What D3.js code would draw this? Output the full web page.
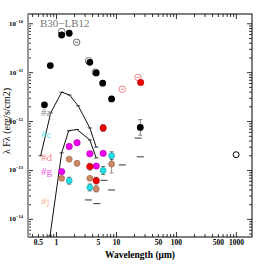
<!DOCTYPE html>
<html>
<head>
<meta charset="utf-8">
<script src="https://cdn.jsdelivr.net/npm/d3@7"></script>
<style>
  body { margin: 0; background: #fff; }
  svg { display: block; }
</style>
</head>
<body>
<div id="chart"></div>
<script>
// Chart size
const width = 266;
const height = 266;
const plot = { left: 28, right: 252, top: 14, bottom: 237 };

// Photometry of the main source (black filled)
const blackWl = [0.63, 0.79, 1.22, 1.63, 3.6, 4.6, 5.9, 8.3, 25];
const blackFlux = [2.2e-12, 1.4e-11, 5.9e-11, 6.4e-11, 1.63e-11, 9.9e-12, 6.1e-12, 2.9e-12, 7.6e-13];
const blackErr = [0, 0, 0, 0, 0, 0, 0, 0, 0.16];

// Gray open circles behind the black points
const grayWl = [1.22, 3.45, 4.45];
const grayFlux = [6.9e-11, 1.74e-11, 1.02e-11];
const dotWl = [2.17];
const dotFlux = [4.2e-11];

// Pink open circles and red filled points (#d)
const pinkWl = [12.5, 22.8];
const pinkFlux = [4.6e-12, 8.0e-12];
const redWl = [3.6, 4.6, 6.0, 25.3];
const redFlux = [1.2e-13, 6.2e-14, 7.4e-13, 6.3e-12];
const redErr = [0.07, 0.07, 0.07, 0];

// #g magenta
const magWl = [1.22, 1.63, 2.2, 3.6, 4.6, 6.0];
const magFlux = [9.5e-14, 3.1e-13, 3.7e-13, 2.2e-13, 1.23e-13, 2.24e-13];

// #j brown
const brownWl = [1.22, 1.63, 2.2, 3.6, 4.6, 8.3];
const brownFlux = [6.9e-14, 1.7e-13, 1.4e-13, 6.9e-14, 4.2e-14, 1.35e-13];
const brownErr = [0, 0, 0.05, 0, 0.06, 0.18];

// #c cyan
const cyanWl = [1.63, 3.6, 6.0, 8.3];
const cyanFlux = [6.2e-14, 4.5e-14, 1.0e-13, 2.0e-13];
const cyanErr = [0.07, 0.07, 0.08, 0.08];

// Short dashes (limits)
const dashWl = [3.4, 4.7, 6.2, 8.3, 12.5, 23, 25];
const dashFlux = [2.5e-14, 2.1e-14, 6.3e-14, 4.0e-14, 1.3e-13, 4.6e-13, 1.9e-13];

// Millimetre point
const mmWl = [990];
const mmFlux = [2.1e-13];

// Model SED curves
const modelA_Wl = [0.545, 0.8, 1.22, 1.65, 2.3, 3.6, 4.6];
const modelA_Flux = [2.0e-13, 1.5e-12, 4.0e-12, 3.5e-12, 2.1e-12, 7.4e-13, 3.0e-13];
const modelB_Wl = [0.78, 1.22, 1.6, 2.2, 3.6, 4.6];
const modelB_Flux = [4.6e-15, 2.3e-13, 6.5e-13, 6.9e-13, 4.2e-13, 1.8e-13];

// Axis ticks
const xTickLabels = [0.5, 1, 5, 10, 50, 100, 500, 1000];
const yTickExp = [-10, -11, -12, -13, -14];

// Labels
const sourceLabels = ["#a", "#c", "#d", "#g", "#j"];
const sourceColors = ["#888888", "#5fe8f0", "#f08a80", "#ee55ee", "#f0b8a0"];

const zip = (a, b, e) => a.map((v, i) => ({ x: v, y: b[i], e: e ? e[i] : 0 }));

const xScale = d3.scaleLog().domain([0.335, 1820]).range([plot.left, plot.right]);
const yScale = d3.scaleLog().domain([Math.pow(10, -14.36), Math.pow(10, -9.8)]).range([plot.bottom, plot.top]);

const svg = d3.select("#chart").append("svg")
  .attr("width", width)
  .attr("height", height);

svg.append("defs").append("clipPath").attr("id", "clip")
  .append("rect")
  .attr("x", plot.left).attr("y", plot.top)
  .attr("width", plot.right - plot.left)
  .attr("height", plot.bottom - plot.top);

// Axes, ticks pointing inward on all four sides
const xTicks = [];
for (let d = 0.1; d <= 1000; d *= 10) {
  for (let k = 1; k < 10; k++) {
    const v = +(d * k).toPrecision(3);
    if (v >= 0.335 && v <= 1820) xTicks.push(v);
  }
}
const yTicks = [];
for (let e = -15; e <= -10; e++) {
  for (let k = 1; k < 10; k++) {
    const v = k * Math.pow(10, e);
    if (v >= Math.pow(10, -14.36) && v <= Math.pow(10, -9.8)) yTicks.push(v);
  }
}
const isMajorX = (v) => Math.abs(Math.log10(v) - Math.round(Math.log10(v))) < 1e-6;

const xBottom = d3.axisBottom(xScale).tickValues(xTicks)
  .tickSize(0).tickFormat("");
const axes = svg.append("g").attr("class", "axes");

// bottom and top ticks
[plot.bottom, plot.top].forEach((yy, side) => {
  axes.selectAll(null).data(xTicks).enter().append("line")
    .attr("x1", (d) => xScale(d)).attr("x2", (d) => xScale(d))
    .attr("y1", yy)
    .attr("y2", (d) => yy + (side === 0 ? -1 : 1) * (isMajorX(d) ? 5 : 3))
    .attr("stroke", "#000").attr("stroke-width", 0.8);
});
// left and right ticks
[plot.left, plot.right].forEach((xx, side) => {
  axes.selectAll(null).data(yTicks).enter().append("line")
    .attr("y1", (d) => yScale(d)).attr("y2", (d) => yScale(d))
    .attr("x1", xx)
    .attr("x2", (d) => xx + (side === 0 ? 1 : -1) * (isMajorX(d) ? 5 : 3))
    .attr("stroke", "#000").attr("stroke-width", 0.8);
});

// frame
axes.append("rect")
  .attr("x", plot.left).attr("y", plot.top)
  .attr("width", plot.right - plot.left).attr("height", plot.bottom - plot.top)
  .attr("fill", "none").attr("stroke", "#000").attr("stroke-width", 1);
axes.append("line")
  .attr("x1", plot.left).attr("x2", plot.left)
  .attr("y1", plot.top).attr("y2", plot.bottom)
  .attr("stroke", "#999").attr("stroke-width", 2);

// x tick labels
axes.selectAll(null).data(xTickLabels).enter().append("text")
  .attr("x", (d) => xScale(d)).attr("y", 245)
  .attr("text-anchor", "middle")
  .attr("font-family", "Liberation Serif, serif")
  .attr("font-weight", "bold")
  .attr("font-size", 7.5)
  .text((d) => d);

// y tick labels 10^n
const yLab = axes.selectAll(null).data(yTickExp).enter().append("text")
  .attr("x", 23).attr("y", (d) => yScale(Math.pow(10, d)) + 2)
  .attr("text-anchor", "end")
  .attr("font-family", "Liberation Serif, serif")
  .attr("font-weight", "bold")
  .attr("font-size", 7);
yLab.append("tspan").text("10");
yLab.append("tspan").attr("dy", -3).attr("font-size", 4.5).text((d) => "−" + Math.abs(d));

// axis titles
svg.append("text")
  .attr("x", 140).attr("y", 258)
  .attr("text-anchor", "middle")
  .attr("font-family", "Liberation Serif, serif")
  .attr("font-weight", "bold")
  .attr("font-size", 9.5)
  .text("Wavelength (μm)");
svg.append("text")
  .attr("transform", "translate(10,121) rotate(-90)")
  .attr("text-anchor", "middle")
  .attr("font-family", "Liberation Serif, serif")
  .attr("font-size", 10)
  .text("λ Fλ (erg/s/cm2)");

// data layer
const g = svg.append("g").attr("clip-path", "url(#clip)");

// model curves with small vertex ticks
const line = d3.line().x((d) => xScale(d.x)).y((d) => yScale(d.y));
[zip(modelA_Wl, modelA_Flux), zip(modelB_Wl, modelB_Flux)].forEach((m) => {
  g.append("path").datum(m).attr("d", line)
    .attr("fill", "none").attr("stroke", "#111").attr("stroke-width", 1);
  g.selectAll(null).data(m).enter().append("line")
    .attr("x1", (d) => xScale(d.x) - 2).attr("x2", (d) => xScale(d.x) + 2)
    .attr("y1", (d) => yScale(d.y)).attr("y2", (d) => yScale(d.y))
    .attr("stroke", "#111").attr("stroke-width", 0.8);
});

// limit dashes
g.selectAll(null).data(zip(dashWl, dashFlux)).enter().append("line")
  .attr("x1", (d) => xScale(d.x) - 3.5).attr("x2", (d) => xScale(d.x) + 3.5)
  .attr("y1", (d) => yScale(d.y)).attr("y2", (d) => yScale(d.y))
  .attr("stroke", "#333").attr("stroke-width", 1);

// helper for error bars + points
function drawPoints(data, opts) {
  const withErr = data.filter((d) => d.e > 0);
  g.selectAll(null).data(withErr).enter().append("path")
    .attr("d", (d) => {
      const x = xScale(d.x);
      const y1 = yScale(d.y * Math.pow(10, d.e));
      const y2 = yScale(d.y / Math.pow(10, d.e));
      return `M${x},${y1}V${y2}M${x - 2},${y1}H${x + 2}M${x - 2},${y2}H${x + 2}`;
    })
    .attr("stroke", opts.err || "#555").attr("stroke-width", 0.8).attr("fill", "none");
  g.selectAll(null).data(data).enter().append("circle")
    .attr("cx", (d) => xScale(d.x)).attr("cy", (d) => yScale(d.y))
    .attr("r", opts.r)
    .attr("fill", opts.fill)
    .attr("stroke", opts.stroke || "none")
    .attr("stroke-width", opts.sw || 1);
}

drawPoints(zip(grayWl, grayFlux), { r: 3.4, fill: "none", stroke: "#777", sw: 1 });
drawPoints(zip(blackWl, blackFlux, blackErr), { r: 3.4, fill: "#000", err: "#666" });

// dotted open circle
drawPoints(zip(dotWl, dotFlux), { r: 3.2, fill: "none", stroke: "#666", sw: 1 });
g.selectAll(null).data(zip(dotWl, dotFlux)).enter().append("line")
  .attr("x1", (d) => xScale(d.x) - 1.5).attr("x2", (d) => xScale(d.x) + 1.5)
  .attr("y1", (d) => yScale(d.y)).attr("y2", (d) => yScale(d.y))
  .attr("stroke", "#666").attr("stroke-width", 1);

// pink open circles with bar
drawPoints(zip(pinkWl, pinkFlux), { r: 3.2, fill: "none", stroke: "#f08080", sw: 1 });
g.selectAll(null).data(zip(pinkWl, pinkFlux)).enter().append("line")
  .attr("x1", (d) => xScale(d.x) - 1.5).attr("x2", (d) => xScale(d.x) + 1.5)
  .attr("y1", (d) => yScale(d.y)).attr("y2", (d) => yScale(d.y))
  .attr("stroke", "#f08080").attr("stroke-width", 1);

drawPoints(zip(brownWl, brownFlux, brownErr), { r: 3, fill: "#cc8866", stroke: "#a06040", sw: 0.6, err: "#777" });
drawPoints(zip(magWl, magFlux), { r: 3.2, fill: "#ee00ee", stroke: "#b000b0", sw: 0.6 });
drawPoints(zip(cyanWl, cyanFlux, cyanErr), { r: 3, fill: "#22e0e8", stroke: "#10a0a8", sw: 0.6, err: "#444" });
drawPoints(zip(redWl, redFlux, redErr), { r: 3.2, fill: "#ee0000", stroke: "#b00000", sw: 0.6, err: "#777" });
drawPoints(zip(mmWl, mmFlux), { r: 3, fill: "none", stroke: "#000", sw: 1 });

// title and source labels
svg.append("text")
  .attr("x", 40).attr("y", 27)
  .attr("font-family", "Liberation Serif, serif")
  .attr("font-size", 11)
  .attr("fill", "#777")
  .text("B30−LB12");

const labelY = [116, 138, 161, 175, 205];
svg.selectAll(null).data(sourceLabels).enter().append("text")
  .attr("x", 41).attr("y", (d, i) => labelY[i])
  .attr("font-family", "Liberation Serif, serif")
  .attr("font-size", 11)
  .attr("fill", (d, i) => sourceColors[i])
  .text((d) => d);
</script>
</body>
</html>
